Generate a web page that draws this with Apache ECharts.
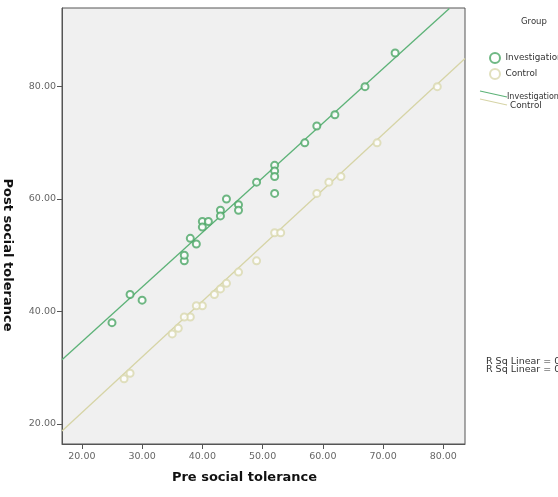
<!DOCTYPE html>
<html>
<head>
<meta charset="utf-8">
<script src="https://cdn.jsdelivr.net/npm/echarts@6/dist/echarts.min.js"></script>
<style>html,body{margin:0;padding:0;background:#fff}#c{width:558px;height:497px}</style>
</head>
<body>
<div id="c"></div>
<script>
// Investigation group (pre, post)
const invPre  = [72, 67, 62, 59, 57, 52, 52, 52, 52, 49, 46, 46, 44, 43, 43, 40, 41, 40, 38, 39, 37, 37, 28, 30, 25];
const invPost = [86, 80, 75, 73, 70, 66, 65, 64, 61, 63, 59, 58, 60, 58, 57, 56, 56, 55, 53, 52, 49, 50, 43, 42, 38];
// Control group (pre, post)
const ctlPre  = [79, 69, 63, 61, 59, 52, 53, 49, 46, 44, 43, 42, 40, 39, 38, 37, 36, 35, 28, 27];
const ctlPost = [80, 70, 64, 63, 61, 54, 54, 49, 47, 45, 44, 43, 41, 41, 39, 39, 37, 36, 29, 28];
// Fit-line endpoints
const invFitX = [16.7, 81.0];
const invFitY = [31.4, 93.9];
const ctlFitX = [16.7, 83.6];
const ctlFitY = [18.7, 85.0];
const xTicks = [20, 30, 40, 50, 60, 70, 80];
const yTicks = [20, 40, 60, 80];

const zip = (a, b) => a.map((v, i) => [v, b[i]]);
const green = '#4ba665', greenLine = '#5cb277';
const beige = '#d9d8ae', beigeLine = '#d6d4a6';

const chart = echarts.init(document.getElementById('c'));
chart.setOption({
  animation: false,
  backgroundColor: '#ffffff',
  grid: { left: 62, right: 93, top: 8, bottom: 53, containLabel: false, outerBoundsMode: 'none',
          show: true, backgroundColor: '#f0f0f0', borderColor: '#555', borderWidth: 1 },
  xAxis: {
    type: 'value', min: 16.7, max: 83.6,
    name: 'Pre social tolerance', nameLocation: 'middle', nameGap: 27,
    nameTextStyle: { fontFamily: 'DejaVu Sans', fontWeight: 'bold', fontSize: 13, color: '#111', padding: [0, 38, 0, 0] },
    splitLine: { show: false },
    axisLine: { show: true, onZero: false, lineStyle: { color: '#555' } },
    axisTick: { show: true, length: 5, lineStyle: { color: '#555' }, customValues: xTicks },
    axisLabel: { customValues: xTicks, formatter: v => v.toFixed(2), color: '#666', fontSize: 9.5, fontFamily: 'DejaVu Sans', margin: 8 }
  },
  yAxis: {
    type: 'value', min: 16.4, max: 94,
    name: 'Post social tolerance', nameLocation: 'middle', nameGap: 48, nameRotate: -90,
    nameTextStyle: { fontFamily: 'DejaVu Sans', fontWeight: 'bold', fontSize: 13, color: '#111', padding: [0, 0, 0, 58] },
    splitLine: { show: false },
    axisLine: { show: true, onZero: false, lineStyle: { color: '#555' } },
    axisTick: { show: true, length: 5, lineStyle: { color: '#555' }, customValues: yTicks },
    axisLabel: { customValues: yTicks, formatter: v => v.toFixed(2), color: '#666', fontSize: 9.5, fontFamily: 'DejaVu Sans', margin: 6 }
  },
  legend: {
    data: ['Investigation', 'Control'], orient: 'vertical', left: 484, top: 47,
    itemWidth: 11, itemHeight: 10, itemGap: 4, icon: 'emptyCircle',
    textStyle: { fontSize: 8.8, color: '#333', fontFamily: 'DejaVu Sans' }
  },
  graphic: [
    { type: 'text', left: 521, top: 17, style: { text: 'Group', fontSize: 8.5, fill: '#333', fontFamily: 'DejaVu Sans' } },
    { type: 'line', shape: { x1: 480, y1: 91, x2: 507, y2: 97 }, style: { stroke: greenLine, lineWidth: 1.2 } },
    { type: 'line', shape: { x1: 480, y1: 99, x2: 507, y2: 105 }, style: { stroke: beigeLine, lineWidth: 1.2 } },
    { type: 'text', left: 507, top: 93, style: { text: 'Investigation', fontSize: 8, fill: '#333', fontFamily: 'DejaVu Sans' } },
    { type: 'text', left: 510, top: 101, style: { text: 'Control', fontSize: 8.8, fill: '#333', fontFamily: 'DejaVu Sans' } },
    { type: 'text', left: 486, top: 357, style: { text: 'R Sq Linear = 0.9', fontSize: 9.5, fill: '#333', fontFamily: 'DejaVu Sans' } },
    { type: 'text', left: 486, top: 365, style: { text: 'R Sq Linear = 0.9', fontSize: 9.5, fill: '#333', fontFamily: 'DejaVu Sans' } }
  ],
  series: [
    { name: 'Investigation', type: 'scatter', data: zip(invPre, invPost), symbol: 'emptyCircle', symbolSize: 7,
      itemStyle: { color: green, borderColor: green, borderWidth: 1.5 }, z: 3 },
    { name: 'Control', type: 'scatter', data: zip(ctlPre, ctlPost), symbol: 'emptyCircle', symbolSize: 7,
      itemStyle: { color: beige, borderColor: beige, borderWidth: 1.5 }, z: 3 },
    { name: 'InvFit', type: 'line', data: zip(invFitX, invFitY), showSymbol: false, symbol: 'none',
      lineStyle: { color: greenLine, width: 1.3 }, z: 2, silent: true },
    { name: 'CtlFit', type: 'line', data: zip(ctlFitX, ctlFitY), showSymbol: false, symbol: 'none',
      lineStyle: { color: beigeLine, width: 1.3 }, z: 2, silent: true }
  ]
});
</script>
</body>
</html>
